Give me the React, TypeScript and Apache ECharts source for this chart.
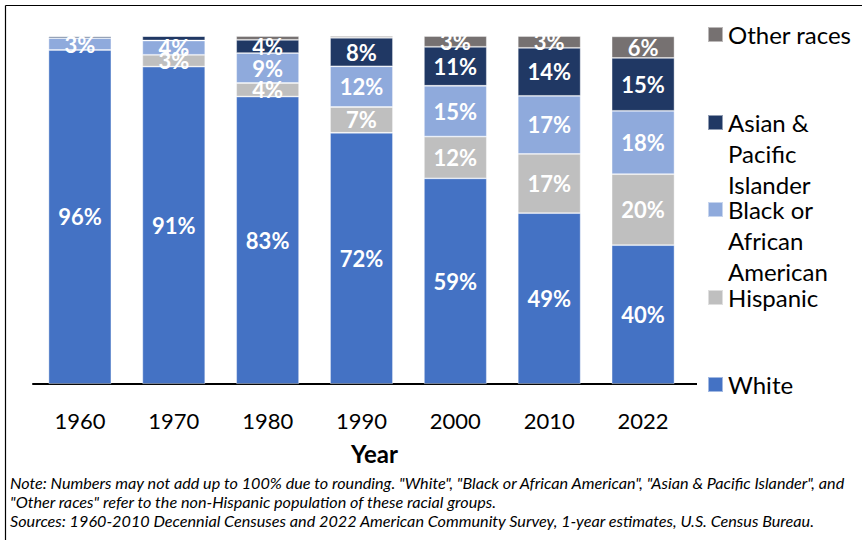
import React, { useEffect, useRef } from "react";
import * as echarts from "echarts";

const years = ["1960", "1970", "1980", "1990", "2000", "2010", "2022"];
const white = [96.0, 91.2, 82.6, 72.2, 59.1, 49.1, 39.9];
const hispanic = [0, 3.4, 3.9, 7.4, 12.0, 17.0, 20.4];
const black = [3.4, 4.1, 8.6, 11.7, 14.6, 16.7, 18.2];
const asian = [0.5, 1.3, 3.8, 8.2, 11.2, 13.8, 15.2];
const other = [0.1, 0, 1.1, 0.5, 3.1, 3.4, 6.2];

const seriesNames = ["White", "Hispanic", "Black or African American", "Asian & Pacific Islander", "Other races"];
const legendLabels: Record<string, string> = {
  "Other races": "Other races",
  "Asian & Pacific Islander": "Asian &\nPacific\nIslander",
  "Black or African American": "Black or\nAfrican\nAmerican",
  Hispanic: "Hispanic",
  White: "White",
};
const colors = ["#4472C4", "#BFBFBF", "#8FAADC", "#203864", "#767171"];
const legendIconTops = [377, 290, 202, 115, 27];

const noteLines = [
  'Note: Numbers may not add up to 100% due to rounding. "White", "Black or African American", "Asian & Pacific Islander", and',
  '"Other races" refer to the non-Hispanic population of these racial groups.',
  "Sources: 1960-2010 Decennial Censuses and 2022 American Community Survey, 1-year estimates, U.S. Census Bureau.",
];

const FONT = "Lato, 'Noto Sans', sans-serif";
const LH = 31;
const ICON = 15;

export default function App() {
  const ref = useRef<HTMLDivElement>(null);
  useEffect(() => {
    document.body.style.margin = "0";
    const chart = echarts.init(ref.current!, undefined, { renderer: "svg" });
    const dataSets = [white, hispanic, black, asian, other];
    const series = seriesNames.map((name, i) => ({
      name,
      type: "bar",
      stack: "total",
      barWidth: "67%",
      data: dataSets[i],
      itemStyle: { color: colors[i], borderColor: "rgba(255,255,255,0.5)", borderWidth: 0.8 },
      label: {
        show: true,
        position: "inside",
        color: "#fff",
        fontFamily: FONT,
        fontWeight: "bold",
        fontSize: 22,
        formatter: (p: any) => (p.value >= 2.5 ? Math.round(p.value) + "%" : ""),
      },
    }));
    const legends = seriesNames.map((name, i) => {
      const lines = legendLabels[name].split("\n").length;
      const H = (2 * lines - 1) * LH;
      const offset = H / 2 - ICON / 2;
      const prefix = "\n".repeat(lines - 1);
      return {
        data: [name],
        left: 707,
        top: legendIconTops[i] - offset,
        padding: 0,
        orient: "vertical",
        icon: "rect",
        itemWidth: ICON,
        itemHeight: ICON,
        selectedMode: false,
        formatter: () => prefix + legendLabels[name],
        textStyle: {
          fontFamily: FONT,
          fontSize: 24,
          color: "#000",
          lineHeight: LH,
        },
      };
    });
    chart.setOption({
      animation: false,
      color: colors,
      legend: legends,
      grid: { left: 33, top: 36, width: 657, height: 348, containLabel: false },
      xAxis: {
        type: "category",
        data: years,
        axisLine: { lineStyle: { color: "#000", width: 2 } },
        axisTick: { show: false },
        axisLabel: { fontFamily: FONT, fontSize: 22, color: "#000", margin: 25 },
        name: "Year",
        nameLocation: "middle",
        nameGap: 57,
        nameTextStyle: { fontFamily: FONT, fontSize: 24, fontWeight: "bold", color: "#000", padding: [0, 0, 0, 26] },
      },
      yAxis: { type: "value", min: 0, max: 100, show: false },
      series,
      graphic: [
        { type: "line", shape: { x1: 5.5, y1: 5.5, x2: 862, y2: 5.5 }, style: { stroke: "#000", lineWidth: 1.2 } },
        { type: "line", shape: { x1: 5.5, y1: 5.5, x2: 5.5, y2: 540 }, style: { stroke: "#000", lineWidth: 1.2 } },
        { type: "line", shape: { x1: 690, y1: 384, x2: 697, y2: 384 }, style: { stroke: "#000", lineWidth: 2 } },
        ...noteLines.map((t, i) => ({
          type: "text",
          left: 10,
          top: 474 + i * 19,
          style: { text: t, fontFamily: FONT, fontStyle: "italic", fontSize: 16.2, fill: "#000" },
        })),
      ],
    });
    return () => chart.dispose();
  }, []);
  return <div ref={ref} style={{ width: 862, height: 540 }} />;
}
